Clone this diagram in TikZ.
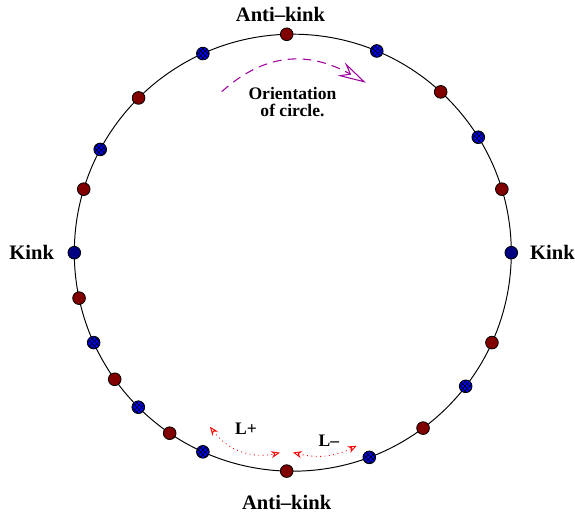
\documentclass[tikz,border=0pt]{standalone}
\usepackage{fontspec}
\setmainfont{Liberation Serif}
\usepackage{tikz}
\usetikzlibrary{arrows.meta}
\usetikzlibrary{patterns.meta}
\definecolor{antired}{RGB}{128,0,0}
\definecolor{kinkblue}{RGB}{0,0,255}
\definecolor{kinknavy}{RGB}{0,0,128}
\definecolor{orientpurple}{RGB}{160,0,160}
\tikzset{hatched/.style={postaction={pattern={Lines[angle=45,distance=1.9pt,line width=0.35pt]}},
                        postaction={pattern={Lines[angle=-45,distance=1.9pt,line width=0.35pt]}}}}
\tikzset{looplength/.style={red, dotted, line width=0.5pt, {Stealth[open,length=5pt,width=4pt]}-{Stealth[open,length=5pt,width=4pt]}}}

\begin{document}
\begin{tikzpicture}[x=0.02cm, y=0.02cm]
	% Default action for each node
	\tikzstyle{every node}=[font=\bfseries];
	\tikzstyle{dot}=[draw, shape=circle, line width=0.45pt, inner sep=0pt, minimum size=0.254cm];
	\tikzstyle{anti}=[dot, fill=antired];
	\tikzstyle{kink}=[dot, fill=kinkblue, hatched];
	\tikzstyle{endkink}=[dot, fill=kinknavy];
	\tikzstyle{biglabel}=[font=\fontsize{11.7}{13}\selectfont\bfseries];

	\useasboundingbox (-292.8,-263.3) rectangle (282.2,252.7);

	% CIRCLE
	\draw[line width=0.55pt] (0,0) circle[radius=218.5];

	% ORIENTATION
	\coordinate (orient start) at (-71.1,161);	\coordinate (orient end) at (73,170);
	\draw[orientpurple, line width=0.6pt, dash pattern=on 5pt off 3.5pt, -{Stealth[open,length=16pt,width=8.5pt,inset=5.5pt]}]
		(orient start) to[out=42, in=151, looseness=1.1] (orient end);
	\node[align=center, font=\fontsize{10}{9.6}\selectfont\bfseries] (orient) at (-0.3,150.7) {Orientation\\of circle.};

	% ANTI-KINKS
	\node[anti] (a1) at (91.6:218.5) {};
	\node[anti] (a2) at (134.9:218.5) {};
	\node[anti] (a3) at (163.1:218.5) {};
	\node[anti] (a4) at (192.0:218.5) {};
	\node[anti] (a5) at (215.4:218.5) {};
	\node[anti] (a6) at (235.7:218.5) {};
	\node[anti] (a7) at (268.4:218.5) {};
	\node[anti] (a8) at (306.6:218.5) {};
	\node[anti] (a9) at (335.7:218.5) {};
	\node[anti] (a10) at (16.9:218.5) {};
	\node[anti] (a11) at (47.4:218.5) {};

	% KINKS
	\node[kink] (k1) at (114.3:218.5) {};
	\node[kink] (k2) at (151.8:218.5) {};
	\node[kink] (k3) at (204.3:218.5) {};
	\node[kink] (k4) at (225.0:218.5) {};
	\node[kink] (k5) at (245.7:218.5) {};
	\node[kink] (k6) at (290.5:218.5) {};
	\node[kink] (k7) at (322.3:218.5) {};
	\node[kink] (k8) at (31.9:218.5) {};
	\node[kink] (k9) at (67.4:218.5) {};

	\node[endkink] (kwest) at (180:218.5) {};
	\node[endkink] (keast) at (0:218.5) {};

	% LABELS
	\node[biglabel] (top label) at (-12.3,238.2) {Anti--kink};
	\node[biglabel] (bottom label) at (-6.1,-249.8) {Anti--kink};
	\node[biglabel] (west label) at (-261.1,0.7) {Kink};
	\node[biglabel] (east label) at (259.7,0.7) {Kink};

	% LENGTHS
	\coordinate (lplus start) at (-82.8,-174);	\coordinate (lplus end) at (-12.8,-200);
	\coordinate (lminus start) at (0.2,-199.8);	\coordinate (lminus end) at (63.9,-193.1);
	\draw[looplength] (lplus start) to[bend right=33] (lplus end);
	\draw[looplength] (lminus start) to[bend right=20] (lminus end);
	\node[font=\fontsize{10}{12}\selectfont\bfseries] (lplus) at (-46.8,-176.3) {L+};
	\node[font=\fontsize{10}{12}\selectfont\bfseries] (lminus) at (36.2,-188.3) {L--};
\end{tikzpicture}
\end{document}
